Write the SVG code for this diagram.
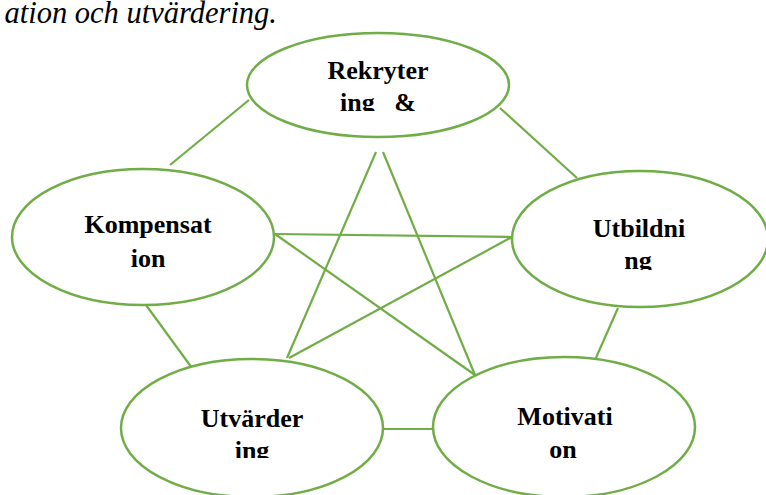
<svg xmlns="http://www.w3.org/2000/svg" width="766" height="495" viewBox="0 0 766 495">
<style>
.n{fill:#fff;stroke:#70AD47;stroke-width:2.5}
.c line{stroke:#70AD47;stroke-width:2.2}
.t{font-family:"Liberation Serif","Times New Roman",serif;font-weight:bold;font-size:26px;fill:#000;text-anchor:middle}
.h{font-family:"Liberation Serif","Times New Roman",serif;font-style:italic;font-size:30.5px;fill:#000}
</style>
<defs>
<clipPath id="cr"><rect x="300" y="40" width="160" height="71"/></clipPath>
<clipPath id="cu"><rect x="560" y="180" width="160" height="90"/></clipPath>
<clipPath id="cv"><rect x="170" y="370" width="160" height="88"/></clipPath>
</defs>
<text class="h" x="277" y="22.5" text-anchor="end">ation och utvärdering.</text>
<g class="c" id="connectors">
<line x1="249" y1="100" x2="170" y2="165"/>
<line x1="500" y1="108" x2="577" y2="178"/>
<line x1="146" y1="305" x2="192" y2="368"/>
<line x1="618" y1="308" x2="595" y2="360"/>
<line x1="384" y1="429" x2="433" y2="429"/>
<line x1="376" y1="152" x2="287" y2="358"/>
<line x1="383" y1="152" x2="475" y2="375"/>
<line x1="275" y1="234" x2="512" y2="237"/>
<line x1="275" y1="234" x2="475" y2="375"/>
<line x1="512" y1="237" x2="289" y2="358"/>
</g>
<g id="rekrytering">
<ellipse class="n" cx="378" cy="85" rx="131" ry="52"/>
<text class="t" x="378" y="79">Rekryter</text>
<text class="t" x="378" y="111" clip-path="url(#cr)" xml:space="preserve">ing   &amp;</text>
</g>
<g id="kompensation">
<ellipse class="n" cx="143" cy="237" rx="131" ry="68"/>
<text class="t" x="148" y="233">Kompensat</text>
<text class="t" x="148" y="267">ion</text>
</g>
<g id="utbildning">
<ellipse class="n" cx="640" cy="239" rx="128" ry="68"/>
<text class="t" x="639" y="237">Utbildni</text>
<text class="t" x="638" y="269" clip-path="url(#cu)">ng</text>
</g>
<g id="utvardering">
<ellipse class="n" cx="252" cy="428" rx="131" ry="69"/>
<text class="t" x="252" y="427">Utvärder</text>
<text class="t" x="252" y="459" clip-path="url(#cv)">ing</text>
</g>
<g id="motivation">
<ellipse class="n" cx="564" cy="427" rx="131" ry="70"/>
<text class="t" x="565" y="425">Motivati</text>
<text class="t" x="563" y="458">on</text>
</g>
</svg>
